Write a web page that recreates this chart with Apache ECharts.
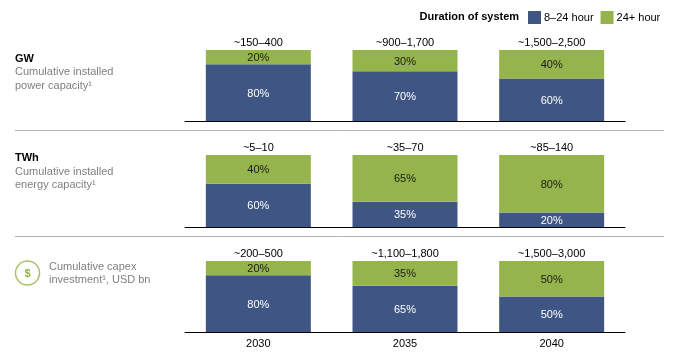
<!DOCTYPE html>
<html>
<head>
<meta charset="utf-8">
<style>
  html, body { margin: 0; padding: 0; background: #fff; }
  #chart { width: 684px; height: 354px; }
</style>
<script src="https://cdn.jsdelivr.net/npm/echarts@6/dist/echarts.min.js"></script>
</head>
<body>
<div id="chart"></div>
<script>
const years = ['2030', '2035', '2040'];

const gwRanges = ['~150–400', '~900–1,700', '~1,500–2,500'];
const gwShort = [80, 70, 60];
const gwLong = [20, 30, 40];

const twhRanges = ['~5–10', '~35–70', '~85–140'];
const twhShort = [60, 35, 20];
const twhLong = [40, 65, 80];

const capexRanges = ['~200–500', '~1,100–1,800', '~1,500–3,000'];
const capexShort = [80, 65, 50];
const capexLong = [20, 35, 50];

const FONT = '"Liberation Sans", Arial, sans-serif';
const BLUE = '#3f5685';
const GREEN = '#95b44b';
const GREY = '#808080';

const panels = [
  { top: 50, height: 71, ranges: gwRanges, short: gwShort, long: gwLong },
  { top: 155, height: 72, ranges: twhRanges, short: twhShort, long: twhLong },
  { top: 261, height: 71, ranges: capexRanges, short: capexShort, long: capexLong },
];

const grid = [];
const xAxis = [];
const yAxis = [];
const series = [];

panels.forEach((p, i) => {
  grid.push({ left: 185, width: 440, top: p.top, height: p.height });
  // bottom axis carries the baseline, and the years on the last panel
  xAxis.push({
    type: 'category',
    gridIndex: i,
    data: years,
    position: 'bottom',
    axisLine: { lineStyle: { color: '#000', width: 1 } },
    axisTick: { show: false },
    axisLabel: {
      show: i === 2,
      color: '#000',
      fontFamily: FONT,
      fontSize: 11,
      margin: 6,
    },
  });
  // top axis carries the range labels over each bar
  xAxis.push({
    type: 'category',
    gridIndex: i,
    data: p.ranges,
    position: 'top',
    axisLine: { show: false },
    axisTick: { show: false },
    axisLabel: {
      color: '#000',
      fontFamily: FONT,
      fontSize: 11,
      margin: 2,
      interval: 0,
    },
  });
  yAxis.push({ type: 'value', gridIndex: i, min: 0, max: 100, show: false });

  const barBase = {
    type: 'bar',
    xAxisIndex: i * 2,
    yAxisIndex: i,
    stack: 'panel' + i,
    barWidth: 105,
  };
  series.push({
    ...barBase,
    name: '8–24 hour',
    data: p.short,
    itemStyle: { color: BLUE },
    label: {
      show: true,
      position: 'inside',
      offset: [0, 1],
      color: '#fff',
      fontFamily: FONT,
      fontSize: 11,
      formatter: (d) => d.value + '%',
    },
  });
  series.push({
    ...barBase,
    name: '24+ hour',
    data: p.long,
    itemStyle: { color: GREEN },
    label: {
      show: true,
      position: 'inside',
      offset: [0, 1],
      color: '#1a1a1a',
      fontFamily: FONT,
      fontSize: 11,
      formatter: (d) => d.value + '%',
    },
  });
});

const sideText = (x, y, text, bold) => ({
  type: 'text',
  x: x,
  y: y,
  silent: true,
  style: {
    text: text,
    fill: bold ? '#000' : GREY,
    font: (bold ? 'bold ' : '') + '11px ' + FONT,
    textVerticalAlign: 'middle',
  },
});

const rule = (y) => ({
  type: 'line',
  silent: true,
  shape: { x1: 15, y1: y, x2: 664, y2: y },
  style: { stroke: '#aeb6b6', lineWidth: 1 },
});

const chart = echarts.init(document.getElementById('chart'));
chart.setOption({
  animation: false,
  backgroundColor: '#fff',
  grid: grid,
  xAxis: xAxis,
  yAxis: yAxis,
  series: series,
  legend: {
    left: 528,
    top: 11,
    padding: 0,
    icon: 'rect',
    itemWidth: 13,
    itemHeight: 13,
    itemGap: 7,
    data: ['8–24 hour', '24+ hour'],
    textStyle: {
      color: '#000',
      fontFamily: FONT,
      fontSize: 11,
      padding: [3, 0, 0, -2],
    },
  },
  graphic: [
    {
      type: 'text',
      x: 419.5,
      y: 17,
      silent: true,
      style: {
        text: 'Duration of system',
        fill: '#000',
        font: 'bold 11px ' + FONT,
        textVerticalAlign: 'middle',
      },
    },
    sideText(15, 59, 'GW', true),
    sideText(15, 72, 'Cumulative installed'),
    sideText(15, 86, 'power capacity¹'),
    sideText(15, 158, 'TWh', true),
    sideText(15, 172, 'Cumulative installed'),
    sideText(15, 185, 'energy capacity¹'),
    sideText(49, 267, 'Cumulative capex'),
    sideText(49, 280, 'investment¹, USD bn'),
    {
      type: 'circle',
      silent: true,
      shape: { cx: 27.5, cy: 273, r: 12 },
      style: { fill: '#fff', stroke: '#a9c36d', lineWidth: 1.5 },
    },
    {
      type: 'text',
      x: 27.5,
      y: 273.5,
      silent: true,
      style: {
        text: '$',
        fill: GREEN,
        font: 'bold 11px ' + FONT,
        textAlign: 'center',
        textVerticalAlign: 'middle',
      },
    },
    rule(130.5),
    rule(236.5),
  ],
});
</script>
</body>
</html>
